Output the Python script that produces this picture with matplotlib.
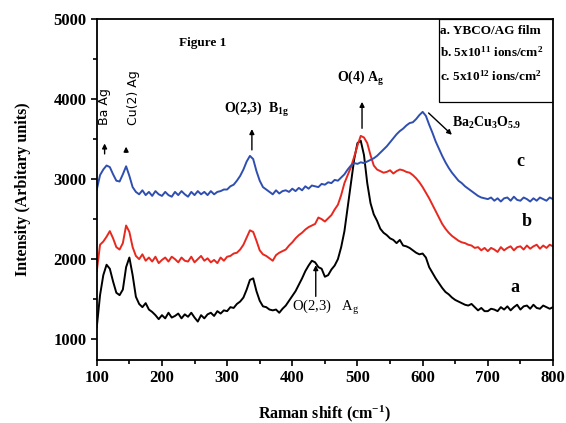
import numpy as np
import matplotlib
matplotlib.use('Agg')
import matplotlib.pyplot as plt
from matplotlib.patches import Rectangle

# Raman shift grid (cm^-1), 5 cm^-1 steps
shift = np.arange(100, 801, 5)

# a. YBCO/AG film
spec_a = [1150, 1550, 1800, 1930, 1880, 1720, 1580, 1550, 1620, 1900,
          2020, 1800, 1530, 1440, 1400, 1450, 1370, 1340, 1300, 1250,
          1300, 1260, 1330, 1270, 1290, 1320, 1260, 1310, 1280, 1330,
          1270, 1220, 1300, 1260, 1310, 1330, 1290, 1350, 1320, 1360,
          1350, 1400, 1390, 1440, 1470, 1520, 1620, 1740, 1760, 1600,
          1480, 1410, 1400, 1370, 1360, 1370, 1330, 1380, 1420, 1480,
          1540, 1600, 1680, 1760, 1850, 1920, 1980, 1960, 1900, 1880,
          1780, 1800, 1870, 1920, 2000, 2150, 2350, 2650, 2950, 3250,
          3450, 3480, 3300, 2950, 2700, 2560, 2480, 2380, 2330, 2300,
          2260, 2240, 2200, 2240, 2170, 2160, 2140, 2110, 2080, 2060,
          2070, 2020, 1900, 1830, 1760, 1700, 1640, 1590, 1560, 1520,
          1490, 1470, 1450, 1430, 1420, 1440, 1400, 1360, 1390, 1350,
          1350, 1380, 1370, 1350, 1400, 1370, 1410, 1360, 1400, 1430,
          1370, 1410, 1420, 1380, 1430, 1390, 1380, 1420, 1400, 1380,
          1400]

# b. 5x10^11 ions/cm^2
spec_b = [1850, 2180, 2220, 2280, 2350, 2260, 2150, 2120, 2200, 2420,
          2340, 2150, 2040, 2000, 2060, 1980, 2020, 1970, 2030, 1950,
          1990, 2020, 1970, 2030, 2000, 1960, 2020, 1980, 1970, 2030,
          1960, 2000, 2040, 1980, 2010, 1960, 1990, 1950, 2020, 1980,
          2030, 2040, 2070, 2080, 2120, 2180, 2270, 2360, 2340, 2230,
          2110, 2060, 2040, 2010, 1980, 2050, 2080, 2100, 2120, 2170,
          2210, 2260, 2300, 2330, 2370, 2400, 2420, 2440, 2520, 2500,
          2470, 2510, 2550, 2620, 2680, 2800, 2950, 3050, 3150, 3280,
          3420, 3540, 3520, 3450, 3300, 3170, 3120, 3100, 3080, 3090,
          3110, 3070, 3100, 3120, 3110, 3090, 3080, 3050, 3010, 2960,
          2900, 2830, 2760, 2680, 2600, 2520, 2440, 2380, 2330, 2290,
          2260, 2230, 2210, 2200, 2180, 2170, 2140, 2150, 2110, 2140,
          2100, 2140, 2120, 2090, 2150, 2110, 2140, 2160, 2110, 2150,
          2160, 2120, 2170, 2130, 2160, 2180, 2130, 2170, 2140, 2180,
          2160]

# c. 5x10^12 ions/cm^2
spec_c = [2870, 3050, 3120, 3170, 3150, 3060, 2980, 2970, 3060, 3160,
          3040, 2900, 2840, 2810, 2860, 2800, 2840, 2790, 2850, 2810,
          2790, 2840, 2800, 2780, 2840, 2800, 2850, 2810, 2780, 2840,
          2800, 2850, 2810, 2840, 2800, 2850, 2810, 2840, 2850, 2870,
          2870, 2910, 2930, 2980, 3040, 3120, 3220, 3290, 3250, 3100,
          2980, 2900, 2870, 2840, 2810, 2860, 2820, 2850, 2860, 2840,
          2880, 2850, 2890, 2860, 2910, 2880, 2920, 2910, 2900, 2940,
          2930, 2960, 2950, 2990, 2980, 3020, 3060, 3120, 3170, 3200,
          3190, 3210, 3200, 3220, 3240, 3260, 3290, 3330, 3370, 3410,
          3460, 3510, 3560, 3600, 3630, 3670, 3700, 3710, 3750, 3800,
          3840, 3790, 3680, 3580, 3470, 3380, 3290, 3210, 3140, 3080,
          3030, 2980, 2950, 2910, 2880, 2850, 2820, 2790, 2770, 2760,
          2750, 2770, 2730, 2760, 2720, 2760, 2770, 2730, 2780, 2740,
          2730, 2770, 2750, 2720, 2760, 2730, 2770, 2750, 2730, 2770,
          2750]

plt.rcParams['font.family'] = ['Liberation Serif', 'DejaVu Serif']
plt.rcParams['mathtext.fontset'] = 'custom'
plt.rcParams['mathtext.rm'] = 'Liberation Serif'
plt.rcParams['mathtext.bf'] = 'Liberation Serif:bold'
plt.rcParams['mathtext.default'] = 'regular'

fig = plt.figure(figsize=(5.66, 4.23), dpi=100)
ax = fig.add_axes([0.171, 0.149, 0.806, 0.806])

ax.plot(shift, spec_a, color='black', lw=1.4)
ax.plot(shift, spec_b, color='#e8281e', lw=1.4)
ax.plot(shift, spec_c, color='#2f4fb0', lw=1.4)

ax.set_xlim(100, 800)
ax.set_ylim(740, 5000)
ax.set_xticks(range(100, 801, 100))
ax.set_xticks(range(150, 800, 100), minor=True)
ax.set_yticks(range(1000, 5001, 1000))
ax.set_yticks(range(1500, 5000, 1000), minor=True)
ax.tick_params(which='both', direction='out', width=1.2, labelsize=12)
ax.tick_params(which='major', length=4)
ax.tick_params(which='minor', length=3)
for lab in ax.get_xticklabels() + ax.get_yticklabels():
    lab.set_fontweight('bold')
for sp in ax.spines.values():
    sp.set_linewidth(1.3)

ax.set_xlabel(r'Raman shift (cm$^{\mathbf{-1}}$)', fontsize=11.5, fontweight='bold', labelpad=12)
ax.set_ylabel('Intensity (Arbitary units)', fontsize=11.5, fontweight='bold', labelpad=16)

# legend-like box
ax.add_patch(Rectangle((625, 3960), 175, 1040, fill=False, ec='black', lw=0.9))
ax.text(627, 4850, 'a. YBCO/AG film', ha='left', va='center', fontsize=9.5, fontweight='bold')
ax.text(627, 4580, r'b. 5x10$^{\mathbf{11}}$ ions/cm$^{\mathbf{2}}$', ha='left', va='center',
        fontsize=9.5, fontweight='bold')
ax.text(627, 4280, r'c. 5x10$^{\mathbf{12}}$ ions/cm$^{\mathbf{2}}$', ha='left', va='center',
        fontsize=9.5, fontweight='bold')

ax.text(262, 4700, 'Figure 1', ha='center', va='center', fontsize=9.5, fontweight='bold')

arrow = dict(arrowstyle='-|>', color='black', lw=1, mutation_scale=7)
ax.annotate('', xy=(112, 3480), xytext=(112, 3280), arrowprops=arrow)
ax.text(112, 3680, 'Ba Ag', rotation=90, ha='center', va='bottom', fontsize=9,
        family='DejaVu Sans')
ax.annotate('', xy=(145, 3440), xytext=(145, 3300), arrowprops=arrow)
ax.text(156, 3680, 'Cu(2) Ag', rotation=90, ha='center', va='bottom', fontsize=9,
        family='DejaVu Sans')

ax.annotate('', xy=(338, 3660), xytext=(338, 3330), arrowprops=arrow)
ax.text(345, 3870, r'O(2,3)  B$_{\mathbf{1g}}$', ha='center', va='center', fontsize=10,
        fontweight='bold')

ax.annotate('', xy=(507, 4000), xytext=(507, 3600), arrowprops=arrow)
ax.text(505, 4260, r'O(4) A$_{\mathbf{g}}$', ha='center', va='center', fontsize=10,
        fontweight='bold')

ax.annotate('', xy=(648, 3530), xytext=(606, 3850), arrowprops=arrow)
ax.text(645, 3700, r'Ba$_{\mathbf{2}}$Cu$_{\mathbf{3}}$O$_{\mathbf{5.9}}$', ha='left',
        va='center', fontsize=10, fontweight='bold')

ax.annotate('', xy=(436, 1960), xytext=(436, 1500), arrowprops=arrow)
ax.text(400, 1390, 'O(2,3)   A$_g$', ha='left', va='center', fontsize=10.5)

ax.text(750, 3220, 'c', ha='center', va='center', fontsize=13, fontweight='bold')
ax.text(760, 2470, 'b', ha='center', va='center', fontsize=13, fontweight='bold')
ax.text(742, 1650, 'a', ha='center', va='center', fontsize=13, fontweight='bold')

fig.savefig('out.png', dpi=100)
plt.close(fig)
